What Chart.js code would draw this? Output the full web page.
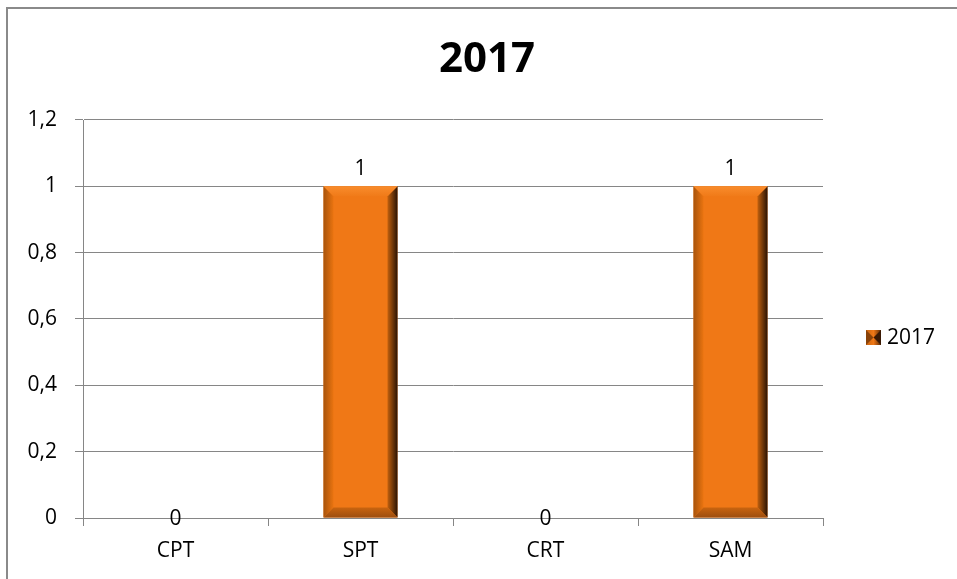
<!DOCTYPE html>
<html>
<head>
<meta charset="utf-8">
<script src="https://cdn.jsdelivr.net/npm/chart.js@4/dist/chart.umd.min.js"></script>
<style>
html,body{margin:0;padding:0;background:#fff;overflow:hidden;}
#wrap{position:absolute;left:0;top:0;width:957px;height:579px;}
#frame{position:absolute;left:6px;top:7px;width:1000px;height:700px;border:2px solid #8a8a8a;box-sizing:border-box;pointer-events:none;}
</style>
</head>
<body>
<div id="wrap"><canvas id="c" width="957" height="579"></canvas></div>
<div id="frame"></div>
<script>
const chartTitle = '2017';
const categories = ['CPT', 'SPT', 'CRT', 'SAM'];
const seriesLabel = '2017';
const seriesValues = [0, 1, 0, 1];
const yTickLabels = ['0', '0,2', '0,4', '0,6', '0,8', '1', '1,2'];

const FONT = '"Open Sans", "Liberation Sans", sans-serif';

const bevelPlugin = {
  id: 'bevel',
  afterDatasetsDraw(chart) {
    const ctx = chart.ctx;
    const meta = chart.getDatasetMeta(0);
    meta.data.forEach((bar, i) => {
      const x0 = bar.x - bar.width / 2, x1 = bar.x + bar.width / 2;
      const y0 = bar.y, y1 = bar.base;
      const h = y1 - y0;
      if (h < 1) return;
      const b = Math.min(10, h / 2);
      ctx.save();
      let g = ctx.createLinearGradient(x0, 0, x0 + b, 0);
      g.addColorStop(0, '#a8540c');
      g.addColorStop(1, '#ea7410');
      ctx.fillStyle = g;
      ctx.beginPath();
      ctx.moveTo(x0, y0); ctx.lineTo(x0 + b, y0 + b); ctx.lineTo(x0 + b, y1 - b); ctx.lineTo(x0, y1);
      ctx.closePath(); ctx.fill();
      g = ctx.createLinearGradient(x1 - b, 0, x1, 0);
      g.addColorStop(0, '#c0600e');
      g.addColorStop(1, '#2a1304');
      ctx.fillStyle = g;
      ctx.beginPath();
      ctx.moveTo(x1, y0); ctx.lineTo(x1 - b, y0 + b); ctx.lineTo(x1 - b, y1 - b); ctx.lineTo(x1, y1);
      ctx.closePath(); ctx.fill();
      g = ctx.createLinearGradient(0, y0, 0, y0 + b);
      g.addColorStop(0, '#f98c2c');
      g.addColorStop(1, '#f07a18');
      ctx.fillStyle = g;
      ctx.beginPath();
      ctx.moveTo(x0, y0); ctx.lineTo(x1, y0); ctx.lineTo(x1 - b, y0 + b); ctx.lineTo(x0 + b, y0 + b);
      ctx.closePath(); ctx.fill();
      g = ctx.createLinearGradient(0, y1 - b, 0, y1);
      g.addColorStop(0, '#c9640f');
      g.addColorStop(1, '#9c4e10');
      ctx.fillStyle = g;
      ctx.beginPath();
      ctx.moveTo(x0, y1); ctx.lineTo(x1, y1); ctx.lineTo(x1 - b, y1 - b); ctx.lineTo(x0 + b, y1 - b);
      ctx.closePath(); ctx.fill();
      ctx.restore();
    });
  }
};

const labelsPlugin = {
  id: 'valueLabels',
  afterDraw(chart) {
    const ctx = chart.ctx;
    const meta = chart.getDatasetMeta(0);
    ctx.save();
    ctx.font = '21px ' + FONT;
    ctx.fillStyle = '#000';
    ctx.textAlign = 'center';
    ctx.textBaseline = 'middle';
    meta.data.forEach((bar, i) => {
      const v = chart.data.datasets[0].data[i];
      const txt = String(v).replace('.', ',');
      const y = v === 0 ? bar.y + 1 : bar.y - 17;
      ctx.fillText(txt, bar.x, y);
    });
    ctx.font = 'bold 42px ' + FONT;
    ctx.fillText(chartTitle, 487, 60);
    const lx = 866, ly = 330, s = 15;
    let g = ctx.createLinearGradient(lx, 0, lx + s, 0);
    g.addColorStop(0, '#c8640f'); g.addColorStop(0.5, '#f07816'); g.addColorStop(1, '#5a2a06');
    ctx.fillStyle = g;
    ctx.fillRect(lx, ly, s, s);
    ctx.fillStyle = '#8a4208';
    ctx.beginPath(); ctx.moveTo(lx, ly); ctx.lineTo(lx + s/2, ly + s/2); ctx.lineTo(lx, ly + s); ctx.closePath(); ctx.fill();
    ctx.fillStyle = '#3a1a05';
    ctx.beginPath(); ctx.moveTo(lx + s, ly); ctx.lineTo(lx + s/2, ly + s/2); ctx.lineTo(lx + s, ly + s); ctx.closePath(); ctx.fill();
    ctx.fillStyle = '#000';
    ctx.textAlign = 'left';
    ctx.font = '21px ' + FONT;
    ctx.fillText(chart.data.datasets[0].label, 887, 338);
    ctx.restore();
  }
};

new Chart(document.getElementById('c'), {
  type: 'bar',
  data: {
    labels: categories,
    datasets: [{
      label: seriesLabel,
      data: seriesValues,
      backgroundColor: '#f07816',
      borderWidth: 0,
      barPercentage: 0.4,
      categoryPercentage: 1.0
    }]
  },
  options: {
    responsive: false,
    animation: false,
    layout: { padding: { top: 120, right: 134, bottom: 0, left: 0 } },
    plugins: {
      legend: { display: false },
      title: { display: false },
      tooltip: { enabled: false }
    },
    scales: {
      x: {
        afterFit(scale) { scale.height = 61; },
        grid: { display: true, drawOnChartArea: false, drawTicks: true, tickLength: 8, color: '#868686', offset: true },
        border: { display: true, color: '#868686', width: 1 },
        ticks: { color: '#000', font: { family: FONT, size: 21 }, padding: 12 }
      },
      y: {
        min: 0, max: 1.2,
        afterFit(scale) { scale.width = 83; },
        afterBuildTicks(scale) {
          scale.ticks = yTickLabels.map((t, i) => ({ value: i * 0.2 }));
        },
        grid: { color: '#868686', lineWidth: 1, tickLength: 8 },
        border: { display: true, color: '#868686', width: 1 },
        ticks: {
          color: '#000', font: { family: FONT, size: 21 }, padding: 18,
          callback(value, index) { return yTickLabels[index]; }
        }
      }
    }
  },
  plugins: [bevelPlugin, labelsPlugin]
});
</script>
</body>
</html>
